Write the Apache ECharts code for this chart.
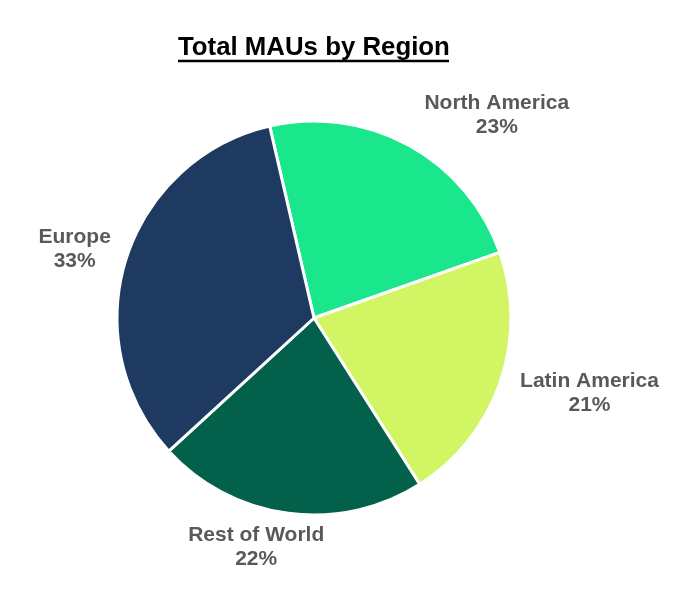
<!DOCTYPE html>
<html>
<head>
<meta charset="utf-8">
<script src="https://cdn.jsdelivr.net/npm/echarts@6/dist/echarts.min.js"></script>
<style>
html,body{margin:0;padding:0;background:#fff;}
#chart{width:676px;height:602px;}
</style>
</head>
<body>
<div id="chart"></div>
<script>
const categories = ['North America', 'Latin America', 'Rest of World', 'Europe'];
const values = [23.2, 21.4, 22.2, 33.2];
const colors = ['#1AE68C', '#D2F564', '#03614B', '#1F3A60'];
const titleText = 'Total MAUs by Region';

const CX = 314, CY = 318, R = 197, START = 103, GAP = 10;
const total = values.reduce((a, b) => a + b, 0);
const midAngles = [];
let cum = 0;
values.forEach(v => { midAngles.push((START - (cum + v / 2) / total * 360) * Math.PI / 180); cum += v; });

const chart = echarts.init(document.getElementById('chart'), null, {renderer: 'canvas'});
const data = categories.map((c, i) => ({name: c, value: values[i], itemStyle: {color: colors[i]}}));
chart.setOption({
  animation: false,
  title: {
    text: titleText,
    left: 178,
    top: 34,
    padding: 0,
    textStyle: {fontFamily: 'Liberation Sans', fontWeight: 'bold', fontSize: 25.8, lineHeight: 28, color: '#000'}
  },
  graphic: [{
    type: 'line',
    shape: {x1: 178, y1: 61, x2: 449, y2: 61},
    style: {stroke: '#000', lineWidth: 2.5}
  }],
  series: [{
    type: 'pie',
    center: [CX, CY],
    radius: R,
    startAngle: START,
    clockwise: true,
    data: data,
    itemStyle: {borderColor: '#fff', borderWidth: 3},
    label: {
      show: true,
      position: 'outside',
      formatter: p => p.name + '\n' + Math.round(p.value / total * 100) + '%',
      fontFamily: 'Liberation Sans',
      fontWeight: 'bold',
      fontSize: 21,
      lineHeight: 24,
      color: '#595959',
      overflow: 'none',
      bleedMargin: 0
    },
    labelLine: {show: false},
    labelLayout: function (params) {
      const a = midAngles[params.dataIndex];
      const c = Math.cos(a), s = Math.sin(a);
      const w = params.labelRect.width, h = params.labelRect.height;
      const ax = CX + (R + GAP) * c, ay = CY - (R + GAP) * s;
      const fx = Math.sign(c) * Math.min(1, Math.abs(c) * 3) * 1.15;
      return {x: ax + fx * w / 2, y: ay - s * h / 2, align: 'center', verticalAlign: 'middle'};
    }
  }]
});
</script>
</body>
</html>
